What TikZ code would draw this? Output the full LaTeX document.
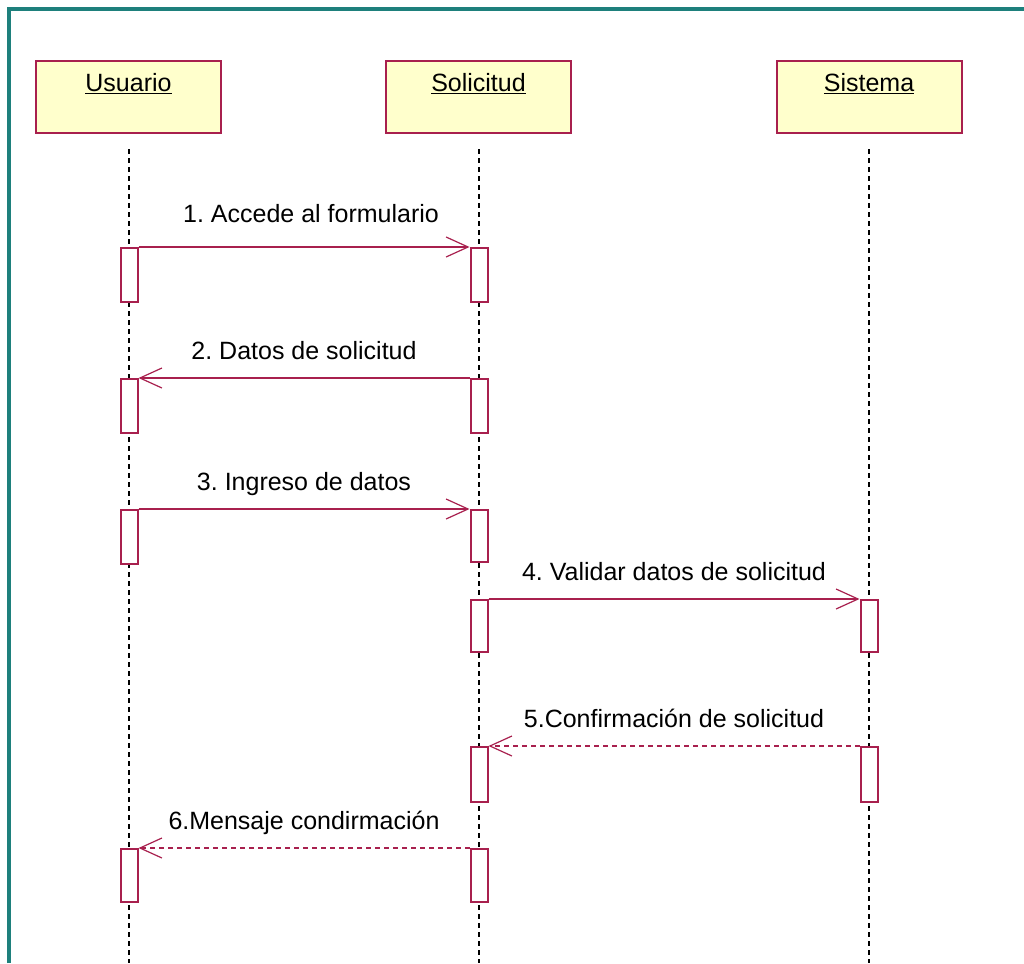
\documentclass[tikz,border=0pt]{standalone}
\usepackage{fontspec}
\setmainfont{Liberation Sans}
\usetikzlibrary{arrows.meta}
\definecolor{frameteal}{RGB}{30,128,124}
\definecolor{umlred}{RGB}{168,32,78}
\definecolor{umlyellow}{RGB}{255,255,204}
\frenchspacing
\begin{document}
\begin{tikzpicture}
		[x=1pt,y=-1pt,
		 actor/.style={draw=umlred,line width=2pt,fill=umlyellow,minimum width=185pt,minimum height=72pt,inner sep=0pt},
		 actorname/.style={font=\fontsize{25}{30}\selectfont,anchor=base},
		 lifeline/.style={line width=1.8pt,dash pattern=on 5pt off 4pt},
		 bar/.style={draw=umlred,line width=2pt,fill=white,minimum width=17pt,minimum height=54pt,inner sep=0pt,anchor=north},
		 msg/.style={draw=umlred,line width=2pt,-{Straight Barb[length=22pt,width=20pt,line width=1.2pt]}},
		 reply/.style={msg,dash pattern=on 5pt off 4pt},
		 lbl/.style={font=\fontsize{25}{30}\selectfont,anchor=base,yshift=19pt}]
		\useasboundingbox (0,0) rectangle (1024,963);
		\draw[frameteal,line width=4pt] (9,963) -- (9,9) -- (1024,9);

		% objects
		\node[actor] (usr) at (128.5,97) {};
		\node[actor] (sol) at (478.5,97) {};
		\node[actor] (sis) at (869,97) {};
		\node[actorname] at (128.5,92) {\underline{Usuario}};
		\node[actorname] at (478.5,92) {\underline{Solicitud}};
		\node[actorname] at (869,92) {\underline{Sistema}};

		% lifelines
		\coordinate (usrend) at (129,963);
		\coordinate (solend) at (479,963);
		\coordinate (sisend) at (869,963);
		\draw[lifeline] ([yshift=-15pt]usr.south -| usrend) -- (usrend);
		\draw[lifeline] ([yshift=-15pt]sol.south -| solend) -- (solend);
		\draw[lifeline] ([yshift=-15pt]sis.south -| sisend) -- (sisend);

		% activations
		\node[bar] (u1) at (129,247) {};
		\node[bar] (s1) at (479,247) {};
		\node[bar] (u2) at (129,378) {};
		\node[bar] (s2) at (479,378) {};
		\node[bar] (u3) at (129,509) {};
		\node[bar,minimum height=52pt] (s3) at (479,509) {};
		\node[bar,minimum height=52pt] (s4) at (479,599) {};
		\node[bar,minimum height=52pt] (y4) at (869,599) {};
		\node[bar,minimum height=55pt] (s5) at (479,746) {};
		\node[bar,minimum height=55pt] (y5) at (869,746) {};
		\node[bar,minimum height=53pt] (u6) at (129,848) {};
		\node[bar,minimum height=53pt] (s6) at (479,848) {};

		% messages
		\draw[msg] (u1.north east) -- (s1.north west)
		node[lbl,midway,yshift=6pt,xshift=7pt]{1. Accede al formulario};
		\draw[msg] (s2.north west) -- (u2.north east)
		node[lbl,midway]{2. Datos de solicitud};
		\draw[msg] (u3.north east) -- (s3.north west)
		node[lbl,midway]{3. Ingreso de datos};
		\draw[msg] (s4.north east) -- (y4.north west)
		node[lbl,midway]{4. Validar datos de solicitud};
		\draw[reply] (y5.north west) -- (s5.north east)
		node[lbl,midway]{5.Confirmación de solicitud};
		\draw[reply] (s6.north west) -- (u6.north east)
		node[lbl,midway]{6.Mensaje condirmación};

	\end{tikzpicture}
\end{document}
